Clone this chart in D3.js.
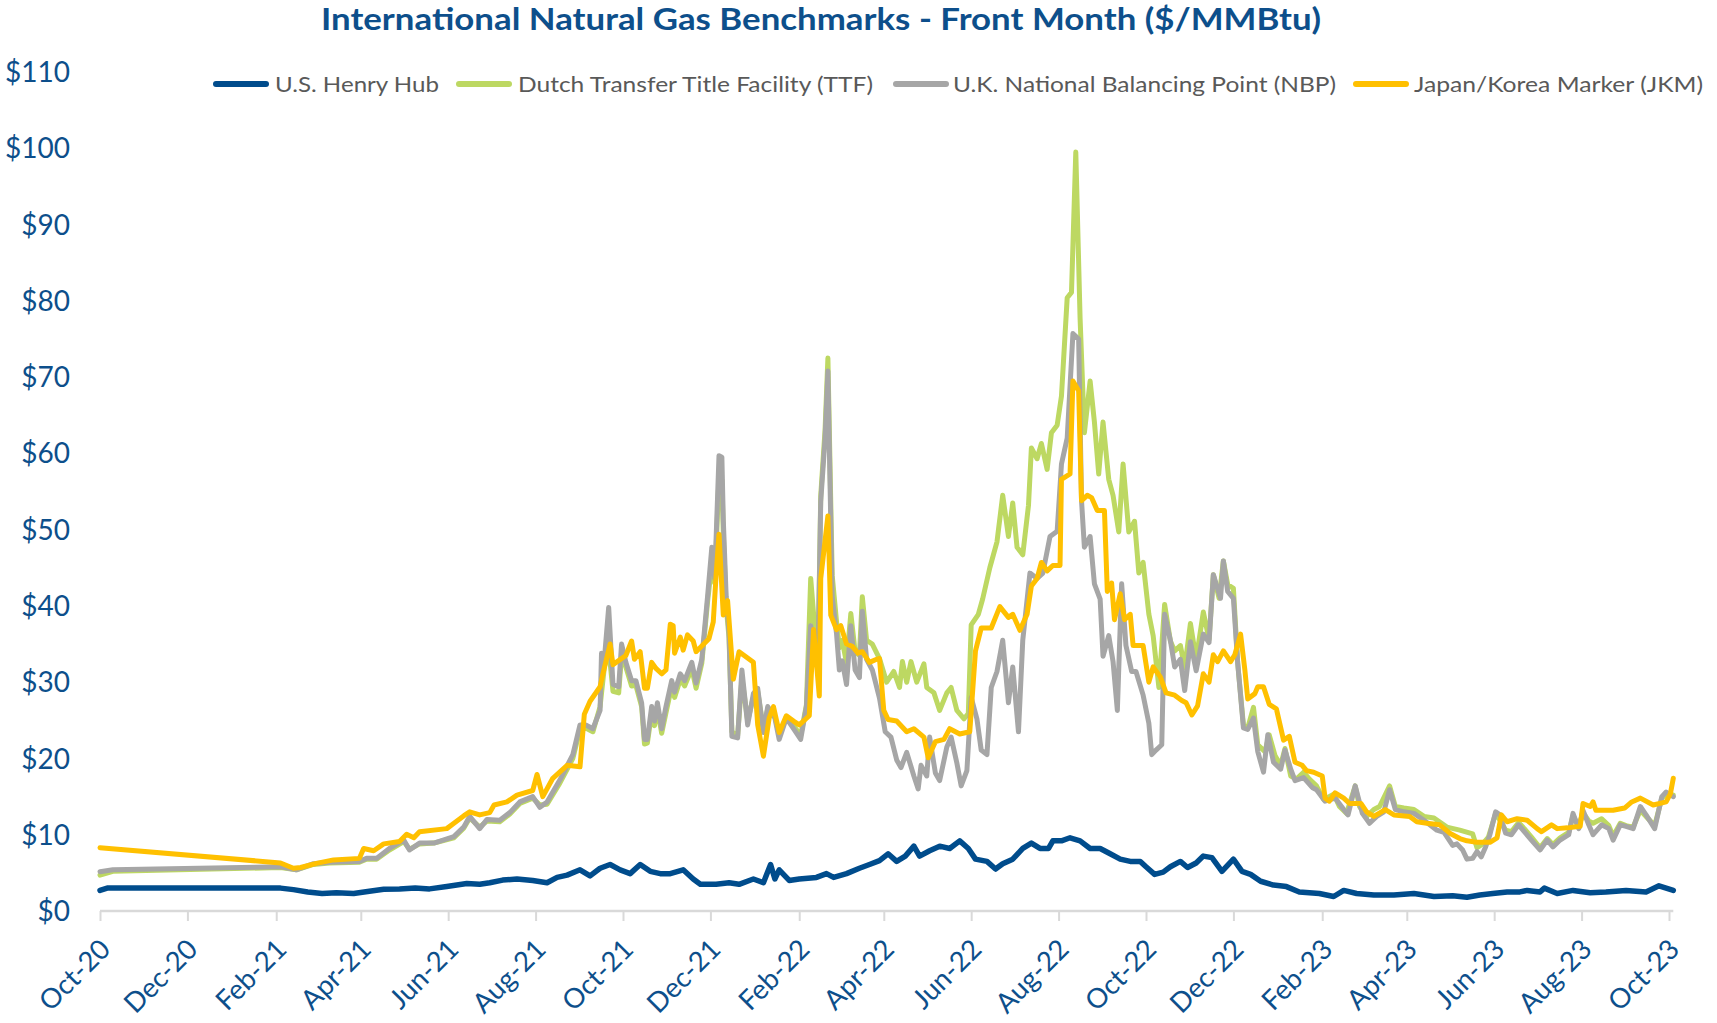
<!DOCTYPE html>
<html>
<head>
<meta charset="utf-8">
<script src="https://cdn.jsdelivr.net/npm/d3@7"></script>
<style>
  body { margin: 0; background: #fff; }
  svg { display: block; font-family: Lato, "Open Sans", sans-serif; }
</style>
</head>
<body>
<div id="chart"></div>
<script>
// ---- data (front month, $/MMBtu) ----
const seriesNames = ["U.S. Henry Hub", "Dutch Transfer Title Facility (TTF)", "U.K. National Balancing Point (NBP)", "Japan/Korea Marker (JKM)"];
const xTickLabels = ["Oct-20","Dec-20","Feb-21","Apr-21","Jun-21","Aug-21","Oct-21","Dec-21","Feb-22","Apr-22","Jun-22","Aug-22","Oct-22","Dec-22","Feb-23","Apr-23","Jun-23","Aug-23","Oct-23"];
const yTicks = [0, 10, 20, 30, 40, 50, 60, 70, 80, 90, 100, 110];

const hhDates = [
  "2020-10-01","2020-10-06",
  "2021-02-04","2021-02-13","2021-02-23","2021-03-05","2021-03-15","2021-03-27",
  "2021-04-07","2021-04-17","2021-04-28","2021-05-09","2021-05-19","2021-05-31",
  "2021-06-14","2021-06-23","2021-06-30","2021-07-09","2021-07-19","2021-07-30",
  "2021-08-09","2021-08-16","2021-08-23","2021-09-01","2021-09-08","2021-09-15","2021-09-22","2021-09-29",
  "2021-10-06","2021-10-13","2021-10-20","2021-10-27","2021-11-03","2021-11-12","2021-11-19","2021-11-24",
  "2021-12-05","2021-12-14","2021-12-21","2021-12-31",
  "2022-01-07","2022-01-12","2022-01-15","2022-01-18","2022-01-25",
  "2022-02-01","2022-02-13","2022-02-20","2022-02-25",
  "2022-03-06","2022-03-15","2022-03-22","2022-03-29",
  "2022-04-04","2022-04-10","2022-04-16","2022-04-22","2022-04-26",
  "2022-05-03","2022-05-10","2022-05-17","2022-05-24","2022-05-30",
  "2022-06-04","2022-06-12","2022-06-18","2022-06-23","2022-06-30",
  "2022-07-07","2022-07-13","2022-07-19","2022-07-25","2022-07-28",
  "2022-08-03","2022-08-09","2022-08-16","2022-08-23","2022-08-30",
  "2022-09-06","2022-09-13","2022-09-20","2022-09-27",
  "2022-10-01","2022-10-07","2022-10-13","2022-10-18","2022-10-25","2022-10-30",
  "2022-11-05","2022-11-10","2022-11-16","2022-11-23",
  "2022-12-01","2022-12-07","2022-12-13","2022-12-20","2022-12-29",
  "2023-01-07","2023-01-16","2023-01-30",
  "2023-02-09","2023-02-16","2023-02-25",
  "2023-03-09","2023-03-23","2023-04-06","2023-04-20",
  "2023-05-03","2023-05-13","2023-05-22","2023-05-31",
  "2023-06-10","2023-06-19","2023-06-24",
  "2023-07-03","2023-07-06","2023-07-15","2023-07-26",
  "2023-08-07","2023-08-18","2023-09-01","2023-09-15","2023-09-24","2023-10-04"
];
const hhValues = [
  2.7, 3.0,
  3.0, 2.8, 2.5, 2.3, 2.4, 2.3,
  2.6, 2.85, 2.9, 3.0, 2.9, 3.2,
  3.6, 3.5, 3.7, 4.05, 4.2, 4.0,
  3.7, 4.4, 4.7, 5.4, 4.6, 5.6, 6.1, 5.4,
  4.9, 6.1, 5.2, 4.9, 4.9, 5.4, 4.2, 3.5,
  3.5, 3.7, 3.5, 4.2,
  3.7, 6.1, 4.2, 5.4, 4.0,
  4.2, 4.4, 4.9, 4.4,
  4.9, 5.6, 6.1, 6.6,
  7.5, 6.5, 7.2, 8.5, 7.2,
  7.9, 8.5, 8.2, 9.2, 8.2,
  6.8, 6.5, 5.5, 6.2, 6.8,
  8.2, 8.9, 8.2, 8.2, 9.2,
  9.2, 9.6, 9.2, 8.2, 8.2,
  7.5, 6.8, 6.5, 6.5,
  5.8, 4.8, 5.1, 5.8, 6.5, 5.7,
  6.3, 7.2, 7.0, 5.2,
  6.8, 5.2, 4.8, 3.9, 3.4,
  3.2, 2.5, 2.3,
  1.9, 2.7, 2.3,
  2.1, 2.1, 2.3, 1.9,
  2.0, 1.8, 2.1, 2.3,
  2.5, 2.5, 2.7,
  2.5, 3.0, 2.3, 2.7,
  2.4, 2.5, 2.7, 2.5, 3.3, 2.7
];

const ttfDates = [
  "2020-10-01","2020-10-10",
  "2021-02-04","2021-02-15","2021-02-27",
  "2021-03-10","2021-03-31",
  "2021-04-05","2021-04-12","2021-04-21",
  "2021-05-01","2021-05-05","2021-05-12","2021-05-22",
  "2021-06-05","2021-06-12","2021-06-16","2021-06-23","2021-06-28",
  "2021-07-07","2021-07-14","2021-07-21","2021-07-30",
  "2021-08-04","2021-08-09","2021-08-18","2021-08-27",
  "2021-09-01","2021-09-05","2021-09-10","2021-09-15","2021-09-18","2021-09-21","2021-09-24","2021-09-28","2021-09-30",
  "2021-10-03","2021-10-07","2021-10-10","2021-10-14","2021-10-16","2021-10-18","2021-10-21","2021-10-23","2021-10-25","2021-10-28","2021-10-31",
  "2021-11-04","2021-11-06","2021-11-10","2021-11-13","2021-11-18","2021-11-21","2021-11-25","2021-11-29",
  "2021-12-02","2021-12-04","2021-12-07","2021-12-09","2021-12-10","2021-12-12","2021-12-14","2021-12-16","2021-12-20","2021-12-23","2021-12-27","2021-12-31",
  "2022-01-03","2022-01-07","2022-01-10","2022-01-15","2022-01-18","2022-01-23","2022-01-28",
  "2022-02-02","2022-02-06","2022-02-09","2022-02-14","2022-02-16","2022-02-19","2022-02-21","2022-02-24","2022-02-27",
  "2022-03-01","2022-03-03","2022-03-06","2022-03-09","2022-03-12","2022-03-15","2022-03-17","2022-03-20","2022-03-24","2022-03-29",
  "2022-04-03","2022-04-08","2022-04-12","2022-04-14","2022-04-17","2022-04-20","2022-04-24","2022-04-29",
  "2022-05-01","2022-05-06","2022-05-10","2022-05-15","2022-05-18","2022-05-22","2022-05-27","2022-05-30",
  "2022-06-01","2022-06-06","2022-06-09","2022-06-14","2022-06-19","2022-06-23","2022-06-27","2022-06-30",
  "2022-07-03","2022-07-07","2022-07-11","2022-07-13","2022-07-17","2022-07-20","2022-07-24","2022-07-27","2022-07-31",
  "2022-08-03","2022-08-07","2022-08-10","2022-08-13","2022-08-16","2022-08-19","2022-08-23","2022-08-26","2022-08-29",
  "2022-09-01","2022-09-05","2022-09-08","2022-09-12","2022-09-15","2022-09-19","2022-09-23","2022-09-26","2022-09-29",
  "2022-10-03","2022-10-06","2022-10-10","2022-10-14","2022-10-18","2022-10-21","2022-10-25","2022-10-28",
  "2022-11-01","2022-11-05","2022-11-10","2022-11-14","2022-11-17","2022-11-21","2022-11-24","2022-11-27",
  "2022-12-01","2022-12-04","2022-12-08","2022-12-11","2022-12-15","2022-12-18","2022-12-23","2022-12-26","2022-12-30",
  "2023-01-03","2023-01-06","2023-01-10","2023-01-14","2023-01-19","2023-01-23","2023-01-28",
  "2023-02-02","2023-02-09","2023-02-13","2023-02-18","2023-02-24","2023-02-27",
  "2023-03-04","2023-03-09","2023-03-13","2023-03-20","2023-03-24","2023-03-30",
  "2023-04-06","2023-04-13","2023-04-20","2023-04-29",
  "2023-05-08","2023-05-17","2023-05-20","2023-05-24","2023-05-28",
  "2023-06-02","2023-06-05","2023-06-09","2023-06-13","2023-06-18","2023-06-22","2023-06-27",
  "2023-07-03","2023-07-08","2023-07-12","2023-07-17","2023-07-23","2023-07-26","2023-07-30",
  "2023-08-02","2023-08-06","2023-08-09","2023-08-15","2023-08-20","2023-08-23","2023-08-28",
  "2023-09-01","2023-09-06","2023-09-11","2023-09-15","2023-09-21","2023-09-26","2023-09-29",
  "2023-10-04"
];
const ttfValues = [
  4.7, 5.2,
  5.7, 5.4, 6.1,
  6.3, 6.4,
  6.8, 6.8, 8.0,
  9.1, 8.1, 8.8, 8.9,
  9.6, 10.9, 12.2, 11.0, 11.8,
  11.7, 12.7, 14.1, 14.8,
  13.9, 14.0, 16.8, 20.0,
  23.8, 24.0, 23.5, 26.8, 32.0, 34.5, 28.8, 28.6, 33.5,
  32.0, 29.5, 29.6, 26.8, 21.9, 22.0, 26.0, 24.3, 26.5, 23.3, 26.0,
  29.5, 28.0, 30.4, 29.5, 31.8, 29.2, 32.5, 40.5,
  45.5, 43.0, 57.0, 56.5, 49.5, 40.0, 35.8, 23.5, 23.0, 30.5, 25.0, 28.0,
  28.8, 23.8, 26.5, 25.5, 23.0, 25.5, 24.3,
  23.0, 27.0, 43.6, 32.0, 54.5, 63.0, 72.5, 44.0, 38.0,
  34.5, 35.5, 32.5, 39.0, 34.0, 33.5, 41.2, 35.5, 35.0, 33.1,
  30.0, 31.4, 29.3, 32.7, 30.0, 32.7, 30.0, 32.4,
  29.3, 28.6, 26.3, 28.6, 29.3, 26.3, 25.2, 25.9,
  37.5, 38.9, 40.9, 45.0, 48.4, 54.5, 49.1, 53.5,
  47.7, 46.7, 53.2, 60.7, 59.3, 61.3, 57.9, 62.7, 63.7,
  67.5, 80.4, 81.1, 99.5, 77.7, 62.7, 69.5, 64.1, 57.3,
  64.1, 56.6, 54.5, 49.7, 58.6, 49.7, 51.1, 44.3, 45.7,
  38.9, 36.1, 29.3, 40.2, 35.4, 34.1, 34.8, 31.9,
  37.7, 33.0, 39.2, 35.6, 44.1, 41.0, 45.9, 42.8,
  42.3, 32.5, 24.4, 24.0, 26.7, 21.8, 20.9, 23.1, 20.4,
  19.1, 21.3, 17.7, 17.3, 18.2, 17.3, 16.4,
  14.6, 15.3, 13.7, 12.8, 16.4, 13.7,
  12.4, 13.3, 13.7, 16.4, 13.7, 13.5,
  13.3, 12.4, 12.2, 11.0,
  10.6, 10.1, 8.3, 8.8, 9.7,
  12.8, 11.9, 10.6, 10.4, 11.6, 10.8, 9.7,
  8.3, 9.5, 8.7, 9.6, 10.3, 12.5, 11.0,
  12.9, 11.8, 11.5, 12.1, 11.2, 9.8, 11.5,
  11.2, 11.0, 13.2, 12.4, 11.2, 14.8, 15.3,
  15.2
];

const nbpDates = [
  "2020-10-01","2020-10-10",
  "2021-02-04","2021-02-15","2021-02-27",
  "2021-03-10","2021-03-31",
  "2021-04-05","2021-04-12","2021-04-21",
  "2021-05-01","2021-05-05","2021-05-12","2021-05-22",
  "2021-06-05","2021-06-12","2021-06-16","2021-06-23","2021-06-28",
  "2021-07-07","2021-07-14","2021-07-21","2021-07-30",
  "2021-08-04","2021-08-09","2021-08-18","2021-08-27",
  "2021-09-01","2021-09-05","2021-09-10","2021-09-15","2021-09-16","2021-09-18","2021-09-21","2021-09-24","2021-09-28","2021-09-30",
  "2021-10-03","2021-10-07","2021-10-10","2021-10-14","2021-10-16","2021-10-18","2021-10-21","2021-10-23","2021-10-25","2021-10-28","2021-10-31",
  "2021-11-04","2021-11-06","2021-11-10","2021-11-13","2021-11-18","2021-11-21","2021-11-25","2021-11-29",
  "2021-12-02","2021-12-04","2021-12-07","2021-12-09","2021-12-10","2021-12-12","2021-12-14","2021-12-16","2021-12-20","2021-12-23","2021-12-27","2021-12-31",
  "2022-01-03","2022-01-07","2022-01-10","2022-01-15","2022-01-18","2022-01-23","2022-01-28",
  "2022-02-02","2022-02-06","2022-02-09","2022-02-14","2022-02-16","2022-02-19","2022-02-21","2022-02-24","2022-02-27",
  "2022-03-01","2022-03-03","2022-03-06","2022-03-09","2022-03-12","2022-03-15","2022-03-17","2022-03-20","2022-03-24","2022-03-29",
  "2022-04-02","2022-04-06","2022-04-10","2022-04-13","2022-04-17","2022-04-22","2022-04-25","2022-04-27",
  "2022-05-01","2022-05-03","2022-05-07","2022-05-10","2022-05-15","2022-05-18","2022-05-22","2022-05-25","2022-05-29",
  "2022-06-01","2022-06-05","2022-06-08","2022-06-12","2022-06-15","2022-06-19","2022-06-23","2022-06-27","2022-06-30",
  "2022-07-04","2022-07-07","2022-07-12","2022-07-17","2022-07-21","2022-07-26","2022-07-31",
  "2022-08-03","2022-08-07","2022-08-11","2022-08-15","2022-08-17","2022-08-19","2022-08-23","2022-08-26","2022-08-30",
  "2022-09-01","2022-09-05","2022-09-08","2022-09-11","2022-09-14","2022-09-17","2022-09-21","2022-09-24","2022-09-29",
  "2022-10-03","2022-10-05","2022-10-08","2022-10-12","2022-10-14","2022-10-18","2022-10-21","2022-10-25","2022-10-28",
  "2022-11-01","2022-11-05","2022-11-10","2022-11-14","2022-11-17","2022-11-22","2022-11-24","2022-11-27",
  "2022-12-01","2022-12-04","2022-12-08","2022-12-11","2022-12-15","2022-12-18","2022-12-22","2022-12-25","2022-12-29",
  "2023-01-03","2023-01-06","2023-01-10","2023-01-13","2023-01-19","2023-01-25","2023-01-28",
  "2023-02-03","2023-02-10","2023-02-16","2023-02-19","2023-02-24",
  "2023-03-01","2023-03-06","2023-03-11","2023-03-16","2023-03-20","2023-03-24","2023-03-30",
  "2023-04-06","2023-04-13","2023-04-22","2023-04-27",
  "2023-05-03","2023-05-06","2023-05-10","2023-05-13","2023-05-17","2023-05-20","2023-05-23","2023-05-26","2023-05-29",
  "2023-06-02","2023-06-05","2023-06-09","2023-06-13","2023-06-18","2023-06-22","2023-06-27",
  "2023-07-03","2023-07-08","2023-07-12","2023-07-17","2023-07-23","2023-07-26","2023-07-30",
  "2023-08-02","2023-08-06","2023-08-09","2023-08-15","2023-08-20","2023-08-23","2023-08-28",
  "2023-09-01","2023-09-06","2023-09-11","2023-09-15","2023-09-21","2023-09-26","2023-09-29",
  "2023-10-04"
];
const nbpValues = [
  5.15, 5.4,
  5.8, 5.4, 6.2,
  6.4, 6.5,
  6.9, 6.9, 8.2,
  9.3, 8.0, 8.9, 8.9,
  9.75, 11.05, 12.4, 10.8, 12.0,
  11.9, 12.9, 14.3, 15.0,
  13.6, 14.3, 17.2, 20.5,
  24.4, 24.4, 23.9, 26.3, 33.8, 33.0, 39.8, 29.7, 29.4, 35.0,
  32.6, 30.2, 30.2, 27.3, 22.5, 22.5, 26.8, 24.9, 27.3, 23.9, 26.8,
  30.2, 28.7, 31.1, 30.2, 32.6, 29.9, 33.0, 41.2,
  47.7, 43.6, 59.7, 59.5, 51.3, 41.2, 36.4, 22.9, 22.7, 31.6, 24.4, 28.5,
  29.2, 23.4, 26.8, 25.3, 22.5, 25.3, 23.9,
  22.5, 26.8, 37.4, 31.6, 53.7, 61.9, 70.8, 41.2, 36.4,
  31.6, 32.8, 29.7, 37.4, 31.6, 30.6, 39.3, 33.0, 31.6, 27.9,
  23.5, 22.8, 19.8, 18.8, 20.8, 17.7, 16.0, 19.1,
  17.7, 22.8, 18.1, 17.1, 21.5, 22.8, 19.4, 16.4, 18.4,
  28.0, 25.2, 21.1, 20.5, 29.3, 31.4, 35.5, 27.3, 32.0,
  23.5, 35.5, 44.3, 43.6, 44.3, 49.1, 49.8,
  58.6, 62.0, 75.7, 75.0, 53.8, 47.7, 49.1, 42.9, 40.9,
  33.4, 36.1, 32.7, 26.3, 42.9, 34.8, 31.4, 31.4, 28.3,
  24.6, 20.5, 21.1, 21.8, 38.9, 35.5, 32.0, 33.0, 28.9,
  35.3, 31.5, 36.3, 35.2, 44.1, 41.0, 45.9, 41.9,
  41.0, 32.5, 24.0, 23.8, 25.3, 20.9, 18.2, 23.1, 19.5,
  18.6, 21.1, 18.6, 17.1, 17.5, 16.2, 15.9,
  14.4, 14.8, 13.3, 12.6, 16.4,
  12.8, 11.5, 12.4, 13.0, 15.9, 13.3, 13.0,
  12.8, 11.9, 10.6, 10.3,
  8.6, 8.8, 8.0, 6.8, 6.9, 7.8, 7.1, 8.4, 10.0,
  13.0, 12.6, 10.2, 10.0, 11.3, 10.4, 9.3,
  8.0, 9.3, 8.4, 9.3, 10.0, 12.8, 10.8,
  13.2, 11.3, 10.0, 11.3, 10.8, 9.3, 11.3,
  11.1, 10.8, 13.7, 12.6, 10.8, 15.0, 15.6,
  15.0
];

const jkmDates = [
  "2020-10-01",
  "2021-02-04","2021-02-13","2021-02-18",
  "2021-03-01","2021-03-13","2021-03-31",
  "2021-04-03","2021-04-10","2021-04-17","2021-04-28",
  "2021-05-03","2021-05-08","2021-05-12","2021-05-31",
  "2021-06-05","2021-06-12","2021-06-16","2021-06-23","2021-06-30",
  "2021-07-03","2021-07-12","2021-07-19","2021-07-30",
  "2021-08-02","2021-08-06","2021-08-13","2021-08-23",
  "2021-09-01","2021-09-04","2021-09-08","2021-09-15","2021-09-17","2021-09-22","2021-09-24",
  "2021-10-03","2021-10-07","2021-10-09","2021-10-13","2021-10-16","2021-10-18","2021-10-21","2021-10-24","2021-10-28","2021-10-31",
  "2021-11-03","2021-11-05","2021-11-06","2021-11-10","2021-11-12","2021-11-15","2021-11-19","2021-11-21","2021-11-30",
  "2021-12-03","2021-12-05","2021-12-07","2021-12-10","2021-12-13","2021-12-17","2021-12-21","2021-12-31",
  "2022-01-03","2022-01-07","2022-01-11","2022-01-14","2022-01-18","2022-01-23","2022-01-28",
  "2022-02-01","2022-02-08","2022-02-11","2022-02-15","2022-02-16","2022-02-21","2022-02-23","2022-02-27",
  "2022-03-02","2022-03-06","2022-03-10","2022-03-14","2022-03-17","2022-03-22","2022-03-27","2022-03-29",
  "2022-04-01","2022-04-04","2022-04-10","2022-04-17","2022-04-22","2022-04-29",
  "2022-05-02","2022-05-07","2022-05-13","2022-05-17","2022-05-24","2022-05-31",
  "2022-06-04","2022-06-08","2022-06-15","2022-06-21","2022-06-27","2022-06-30",
  "2022-07-05","2022-07-10","2022-07-13","2022-07-17","2022-07-20","2022-07-24","2022-07-28",
  "2022-08-02","2022-08-03","2022-08-09","2022-08-11","2022-08-15","2022-08-17","2022-08-21","2022-08-24","2022-08-28",
  "2022-09-02","2022-09-04","2022-09-07","2022-09-09","2022-09-13","2022-09-16","2022-09-20","2022-09-22","2022-09-29",
  "2022-10-03","2022-10-06","2022-10-11","2022-10-15","2022-10-21","2022-10-26","2022-10-29",
  "2022-11-02","2022-11-06","2022-11-10","2022-11-14","2022-11-17","2022-11-20","2022-11-24","2022-11-29",
  "2022-12-02","2022-12-06","2022-12-09","2022-12-11","2022-12-16","2022-12-18","2022-12-22","2022-12-26","2022-12-31",
  "2023-01-05","2023-01-09","2023-01-13","2023-01-18","2023-01-21","2023-01-26",
  "2023-02-01","2023-02-03","2023-02-06","2023-02-10","2023-02-16","2023-02-20","2023-02-28",
  "2023-03-04","2023-03-09","2023-03-17","2023-03-23",
  "2023-04-03","2023-04-08","2023-04-15","2023-04-24",
  "2023-05-01","2023-05-08","2023-05-13","2023-05-20","2023-05-29",
  "2023-06-03","2023-06-06","2023-06-10","2023-06-17","2023-06-24",
  "2023-07-01","2023-07-04","2023-07-11","2023-07-15","2023-07-22","2023-07-31",
  "2023-08-02","2023-08-07","2023-08-09","2023-08-11","2023-08-23","2023-08-31",
  "2023-09-05","2023-09-11","2023-09-20","2023-09-29",
  "2023-10-02","2023-10-04"
];
const jkmValues = [
  8.3,
  6.3, 5.6, 5.7,
  6.25, 6.7, 6.9,
  8.2, 7.9, 8.8, 9.1,
  10.05, 9.6, 10.4, 10.8,
  11.5, 12.5, 13.0, 12.6, 12.9,
  13.9, 14.3, 15.2, 15.8,
  17.9, 15.0, 17.4, 19.1,
  18.9, 25.8, 27.5, 29.4, 31.1, 35.0, 32.3,
  33.5, 35.4, 33.0, 34.0, 29.2, 29.2, 32.6, 31.8, 31.1, 31.6,
  37.6, 37.4, 33.8, 35.9, 34.2, 36.2, 35.4, 34.0, 35.7,
  37.9, 44.1, 49.4, 38.8, 40.7, 30.4, 34.0, 32.6,
  24.4, 20.3, 25.3, 26.8, 23.4, 25.6, 24.9,
  24.4, 25.6, 36.9, 28.2, 43.6, 51.8, 38.8, 36.9,
  37.4, 35.0, 34.7, 33.8, 34.0, 32.6, 33.0, 33.1,
  26.3, 25.1, 24.9, 23.5, 23.9, 22.8,
  20.1, 22.2, 22.5, 23.9, 23.2, 23.5,
  34.1, 37.1, 37.1, 39.9, 38.5, 38.9,
  36.8, 38.9, 42.6, 43.6, 45.7, 44.6, 45.3,
  45.3, 56.6, 57.3, 69.5, 68.2, 53.8, 54.5, 54.2, 52.5,
  52.5, 41.9, 43.0, 38.2, 41.6, 38.2, 38.9, 34.8, 34.8,
  30.0, 32.0, 30.7, 28.6, 28.3, 27.6, 27.3,
  25.7, 26.9, 31.1, 30.0, 33.6, 32.7, 34.1, 32.7,
  33.6, 36.3, 31.6, 27.8, 28.5, 29.4, 29.4, 27.1, 26.5,
  22.4, 22.9, 19.5, 19.1, 18.4, 18.2,
  17.7, 14.8, 14.4, 15.5, 14.8, 14.1, 14.1,
  13.0, 12.4, 13.3, 12.6,
  12.4, 11.7, 11.5, 11.3,
  10.2, 9.5, 9.2, 9.0, 9.0,
  9.6, 12.6, 11.7, 12.1, 11.9,
  10.8, 10.4, 11.3, 10.8, 10.9, 11.1,
  14.1, 13.7, 14.3, 13.2, 13.2, 13.5,
  14.3, 14.8, 13.9, 14.3,
  15.4, 17.4
];

// ---- chart ----
const width = 1717, height = 1023;
const parseDate = d3.timeParse("%Y-%m-%d");
const parseTick = d3.timeParse("%b-%y");
const textBlue = "#0d4f8b";

const series = [
  { name: seriesNames[0], color: "#004c8c", width: 5.5, dates: hhDates, values: hhValues },
  { name: seriesNames[1], color: "#bdd862", width: 5, dates: ttfDates, values: ttfValues },
  { name: seriesNames[2], color: "#a6a6a6", width: 5, dates: nbpDates, values: nbpValues },
  { name: seriesNames[3], color: "#ffc000", width: 5, dates: jkmDates, values: jkmValues }
].map(s => ({ ...s, points: s.dates.map((d, i) => ({ date: parseDate(d), value: s.values[i] })) }));

const tickDates = xTickLabels.map(parseTick);

const x = d3.scaleTime()
  .domain([tickDates[0], tickDates[tickDates.length - 1]])
  .range([100, 1669]);
const y = d3.scaleLinear()
  .domain([0, 110])
  .range([911, 72]);

const svg = d3.select("#chart")
  .append("svg")
  .attr("width", width)
  .attr("height", height);

// title
svg.append("text")
  .attr("x", 821)
  .attr("y", 30)
  .attr("text-anchor", "middle")
  .attr("font-size", 30)
  .attr("font-weight", 700)
  .attr("fill", textBlue)
  .attr("textLength", 1000)
  .attr("lengthAdjust", "spacingAndGlyphs")
  .text("International Natural Gas Benchmarks - Front Month ($/MMBtu)");

// y labels (no gridlines)
svg.append("g")
  .selectAll("text")
  .data(yTicks)
  .enter().append("text")
  .attr("x", 70)
  .attr("y", d => y(d))
  .attr("dy", "0.36em")
  .attr("text-anchor", "end")
  .attr("font-size", 28)
  .attr("fill", textBlue)
  .text(d => "$" + d);

// x axis
const lastDate = d3.max(series, s => s.points[s.points.length - 1].date);
const xAxis = svg.append("g")
  .attr("transform", `translate(0,${y(0)})`)
  .call(d3.axisBottom(x).tickValues(tickDates).tickSize(10).tickSizeOuter(0).tickFormat(""));
xAxis.select(".domain").remove();
xAxis.selectAll(".tick line").attr("stroke", "#d9d9d9").attr("stroke-width", 2);
xAxis.append("line")
  .attr("x1", x.range()[0])
  .attr("x2", x(lastDate))
  .attr("stroke", "#d9d9d9")
  .attr("stroke-width", 2.5);

svg.append("g")
  .selectAll("text")
  .data(tickDates)
  .enter().append("text")
  .attr("transform", (d) => `translate(${x(d) + 12},951) rotate(-45)`)
  .attr("text-anchor", "end")
  .attr("font-size", 27.5)
  .attr("fill", textBlue)
  .text((d, i) => xTickLabels[i]);

// lines
const line = d3.line()
  .x(d => x(d.date))
  .y(d => y(d.value));

svg.append("g")
  .selectAll("path")
  .data(series)
  .enter().append("path")
  .attr("d", d => line(d.points))
  .attr("fill", "none")
  .attr("stroke", d => d.color)
  .attr("stroke-width", d => d.width)
  .attr("stroke-linejoin", "round")
  .attr("stroke-linecap", "round");

// legend
const legendPos = [
  { x: 216, tx: 275, w: 164 },
  { x: 459, tx: 518, w: 355 },
  { x: 896, tx: 953, w: 383 },
  { x: 1356, tx: 1414, w: 289 }
];
const legend = svg.append("g")
  .selectAll("g")
  .data(series)
  .enter().append("g");
legend.append("line")
  .attr("x1", (d, i) => legendPos[i].x)
  .attr("x2", (d, i) => legendPos[i].x + 50)
  .attr("y1", 84)
  .attr("y2", 84)
  .attr("stroke", d => d.color)
  .attr("stroke-width", 6)
  .attr("stroke-linecap", "round");
legend.append("text")
  .attr("x", (d, i) => legendPos[i].tx)
  .attr("y", 84)
  .attr("dy", "0.36em")
  .attr("font-size", 22)
  .attr("fill", "#595959")
  .attr("textLength", (d, i) => legendPos[i].w)
  .attr("lengthAdjust", "spacingAndGlyphs")
  .text(d => d.name);
</script>
</body>
</html>
